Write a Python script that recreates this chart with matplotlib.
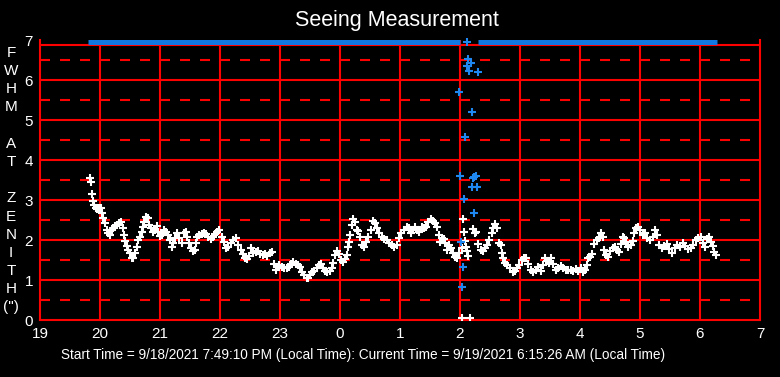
import matplotlib
matplotlib.use('Agg')
import matplotlib.pyplot as plt

plt.rcParams['font.family'] = ['Liberation Sans', 'DejaVu Sans']
plt.rcParams['lines.scale_dashes'] = False

# Seeing (FWHM at zenith, arcsec) vs local hour; hours past midnight run on as 24, 25, ...
white_hours = [
    19.833, 19.85, 19.872, 19.889, 19.906, 19.928, 19.956, 19.983, 20.011, 20.028,
    20.056, 20.083, 20.111, 20.139, 20.167, 20.194, 20.222, 20.25, 20.278, 20.317,
    20.35, 20.378, 20.4, 20.422, 20.444, 20.472, 20.5, 20.528, 20.556, 20.583,
    20.611, 20.639, 20.667, 20.694, 20.722, 20.739, 20.761, 20.794, 20.822, 20.85,
    20.878, 20.917, 20.944, 20.972, 21.0, 21.028, 21.067, 21.1, 21.128, 21.167,
    21.194, 21.222, 21.25, 21.289, 21.322, 21.361, 21.4, 21.433, 21.456, 21.483,
    21.511, 21.544, 21.578, 21.6, 21.622, 21.656, 21.694, 21.733, 21.767, 21.806,
    21.844, 21.878, 21.917, 21.956, 21.989, 22.028, 22.067, 22.1, 22.139, 22.178,
    22.222, 22.267, 22.306, 22.344, 22.378, 22.417, 22.456, 22.489, 22.517, 22.556,
    22.6, 22.628, 22.667, 22.711, 22.75, 22.789, 22.833, 22.872, 22.9, 22.933,
    22.956, 22.989, 23.028, 23.067, 23.111, 23.15, 23.183, 23.222, 23.261, 23.294,
    23.333, 23.372, 23.406, 23.444, 23.472, 23.5, 23.539, 23.572, 23.611, 23.644,
    23.678, 23.711, 23.75, 23.789, 23.833, 23.861, 23.889, 23.917, 23.944, 23.978,
    24.011, 24.056, 24.089, 24.111, 24.128, 24.144, 24.167, 24.194, 24.222, 24.25,
    24.278, 24.306, 24.333, 24.361, 24.4, 24.433, 24.472, 24.511, 24.556, 24.583,
    24.611, 24.65, 24.694, 24.733, 24.778, 24.822, 24.861, 24.906, 24.944, 24.983,
    25.022, 25.067, 25.111, 25.144, 25.178, 25.222, 25.25, 25.289, 25.322, 25.361,
    25.4, 25.433, 25.472, 25.511, 25.544, 25.583, 25.622, 25.644, 25.667, 25.7,
    25.733, 25.756, 25.789, 25.822, 25.85, 25.889, 25.917, 25.956, 25.983, 26.028,
    26.039, 26.056, 26.067, 26.089, 26.1, 26.122, 26.139, 26.167, 26.211, 26.25,
    26.267, 26.306, 26.344, 26.378, 26.417, 26.456, 26.489, 26.528, 26.556, 26.583,
    26.622, 26.656, 26.683, 26.694, 26.722, 26.75, 26.789, 26.833, 26.878, 26.917,
    26.956, 26.989, 27.028, 27.067, 27.1, 27.139, 27.178, 27.222, 27.267, 27.306,
    27.344, 27.378, 27.417, 27.456, 27.489, 27.517, 27.556, 27.594, 27.639, 27.678,
    27.722, 27.767, 27.806, 27.844, 27.889, 27.933, 27.972, 28.011, 28.056, 28.083,
    28.111, 28.139, 28.167, 28.206, 28.239, 28.278, 28.317, 28.35, 28.378, 28.406,
    28.433, 28.461, 28.5, 28.544, 28.583, 28.622, 28.656, 28.683, 28.711, 28.739,
    28.767, 28.806, 28.844, 28.878, 28.9, 28.933, 28.972, 29.0, 29.044, 29.083,
    29.122, 29.167, 29.211, 29.25, 29.278, 29.322, 29.361, 29.4, 29.444, 29.489,
    29.539, 29.583, 29.622, 29.667, 29.711, 29.75, 29.794, 29.844, 29.889, 29.933,
    29.972, 30.011, 30.044, 30.083, 30.122, 30.156, 30.183, 30.211, 30.239, 30.267,
]
white_fwhm = [
    3.54, 3.46, 3.14, 2.975, 2.875, 2.81, 2.775, 2.81, 2.81, 2.67,
    2.54, 2.42, 2.25, 2.17, 2.125, 2.25, 2.31, 2.35, 2.375, 2.42,
    2.44, 2.29, 2.125, 1.975, 1.86, 1.75, 1.67, 1.56, 1.54, 1.67,
    1.83, 2.0, 2.08, 2.21, 2.33, 2.46, 2.58, 2.54, 2.375, 2.29,
    2.21, 2.25, 2.36, 2.21, 2.11, 2.125, 2.25, 2.21, 2.125, 2.0,
    1.83, 1.92, 2.04, 2.17, 2.04, 1.92, 2.17, 2.21, 2.08, 1.92,
    1.81, 1.725, 1.75, 1.92, 2.08, 2.125, 2.14, 2.17, 2.14, 2.08,
    2.025, 2.08, 2.14, 2.21, 2.25, 2.08, 1.96, 1.79, 1.83, 1.92,
    2.0, 2.06, 1.875, 1.75, 1.64, 1.56, 1.525, 1.61, 1.79, 1.67,
    1.69, 1.725, 1.64, 1.625, 1.64, 1.61, 1.67, 1.69, 1.39, 1.25,
    1.33, 1.375, 1.33, 1.31, 1.31, 1.33, 1.39, 1.46, 1.39, 1.375,
    1.33, 1.21, 1.125, 1.06, 1.06, 1.125, 1.19, 1.225, 1.29, 1.375,
    1.39, 1.29, 1.225, 1.21, 1.225, 1.29, 1.42, 1.625, 1.725, 1.64,
    1.5, 1.44, 1.525, 1.625, 1.83, 1.96, 2.125, 2.375, 2.525, 2.46,
    2.25, 2.225, 2.08, 1.875, 1.83, 1.96, 2.08, 2.25, 2.475, 2.42,
    2.29, 2.17, 2.08, 2.025, 2.0, 1.92, 1.875, 1.83, 1.875, 2.06,
    2.17, 2.25, 2.33, 2.31, 2.17, 2.25, 2.33, 2.25, 2.21, 2.33,
    2.29, 2.33, 2.44, 2.525, 2.475, 2.42, 2.33, 2.125, 1.96, 2.06,
    2.025, 1.92, 1.75, 1.875, 1.79, 1.67, 1.58, 1.56, 1.67, 1.79,
    0.05, 2.525, 2.19, 1.975, 1.83, 1.725, 1.61, 0.05, 2.27, 2.17,
    2.19, 1.89, 1.75, 1.725, 1.79, 1.875, 2.0, 2.17, 2.29, 2.4,
    2.29, 1.92, 1.875, 1.67, 1.54, 1.42, 1.375, 1.29, 1.21, 1.225,
    1.29, 1.375, 1.5, 1.56, 1.54, 1.39, 1.25, 1.19, 1.25, 1.33,
    1.225, 1.375, 1.54, 1.475, 1.42, 1.54, 1.39, 1.25, 1.29, 1.36,
    1.31, 1.25, 1.25, 1.25, 1.225, 1.275, 1.225, 1.29, 1.19, 1.25,
    1.375, 1.54, 1.58, 1.64, 1.89, 2.0, 2.06, 2.17, 2.08, 1.75,
    1.625, 1.58, 1.725, 1.79, 1.83, 1.75, 1.69, 1.89, 2.08, 2.04,
    1.94, 1.83, 1.875, 1.975, 2.17, 2.29, 2.33, 2.25, 2.125, 2.17,
    2.04, 2.0, 2.08, 2.25, 2.125, 1.875, 1.79, 1.85, 1.9, 1.77,
    1.68, 1.79, 1.875, 1.83, 1.92, 1.85, 1.77, 1.79, 1.875, 2.0,
    2.04, 2.08, 1.92, 1.83, 2.02, 2.08, 1.96, 1.85, 1.71, 1.625,
]

# scattered blue measurements around 2 AM
blue_hours = [25.989, 26.006, 26.017, 26.039, 26.056, 26.072, 26.089, 26.111, 26.139,
              26.156, 26.178, 26.194, 26.206, 26.222, 26.239, 26.239, 26.267, 26.289, 26.306]
blue_fwhm = [5.71, 3.61, 1.96, 0.83, 1.33, 3.02, 4.58, 6.35, 6.52,
             6.23, 6.42, 5.19, 3.33, 3.54, 3.58, 2.67, 3.61, 3.33, 6.21]

# off-scale readings, drawn as a band along the top
band_start = [19.80, 26.30]
band_end = [26.00, 30.28]
band_single = [26.12]

hour_ticks = list(range(19, 32))
hour_labels = ['19', '20', '21', '22', '23', '0', '1', '2', '3', '4', '5', '6', '7']

fig = plt.figure(figsize=(7.8, 3.77), dpi=100, facecolor='black')
ax = fig.add_axes([40 / 780, 57 / 377, 720 / 780, 280 / 377])
ax.set_facecolor('black')
ax.set_xlim(19, 31)
ax.set_ylim(0, 7)

red = '#ff0000'
for h in hour_ticks[1:-1]:
    ax.axvline(h, color=red, lw=1.5, zorder=1)
for v in range(1, 7):
    ax.axhline(v, color=red, lw=1.5, zorder=1)
for v in range(0, 7):
    ax.axhline(v + 0.5, color=red, lw=1.5, linestyle=(0, (7.2, 7.2)), zorder=1)
# plot frame sits a little below the 7 line
ax.axhline(6.875, color=red, lw=1.5, zorder=1)
for side in ['left', 'right', 'bottom']:
    ax.spines[side].set_color(red)
    ax.spines[side].set_linewidth(1.5)
ax.spines['top'].set_visible(False)

ax.plot(white_hours, white_fwhm, linestyle='none', marker='+', color='white',
        markersize=6, markeredgewidth=1.5, zorder=3)
ax.plot(blue_hours, blue_fwhm, linestyle='none', marker='+', color='#1e88f0',
        markersize=6, markeredgewidth=1.5, zorder=3)
ax.hlines([6.94] * len(band_start), band_start, band_end, color='#1078e0',
          lw=3.6, clip_on=False, zorder=4)
ax.plot(band_single, [6.94] * len(band_single), linestyle='none', marker='+',
        color='#1e88f0', markersize=6, markeredgewidth=1.5, clip_on=False, zorder=4)

ax.set_xticks(hour_ticks)
ax.set_xticklabels(hour_labels)
ax.set_yticks(range(0, 8))
ax.tick_params(colors='white', length=0, labelsize=11, pad=5)

fig.text(0.509, 0.945, 'Seeing Measurement', color='white', fontsize=15.5,
         ha='center', va='center')
fig.text(0.465, 0.058,
         'Start Time = 9/18/2021 7:49:10 PM (Local Time): Current Time = 9/19/2021 6:15:26 AM (Local Time)',
         color='white', fontsize=9.8, ha='center', va='center')
ylabel = '\n'.join(['F', 'W', 'H', 'M', '', 'A', 'T', '', 'Z', 'E', 'N', 'I', 'T', 'H', '(")'])
fig.text(0.014, 0.522, ylabel, color='white', fontsize=11, ha='center', va='center',
         linespacing=1.38)

plt.savefig('out.png', dpi=100, facecolor='black')
